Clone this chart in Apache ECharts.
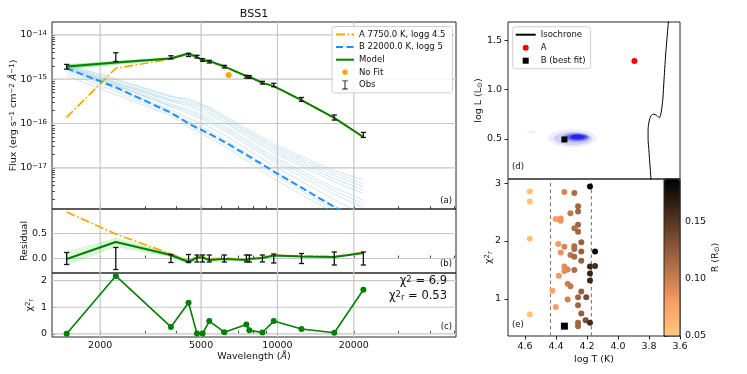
<!DOCTYPE html>
<html><head><meta charset="utf-8">
<script src="https://cdn.jsdelivr.net/npm/echarts@6/dist/echarts.min.js"></script>
<style>html,body{margin:0;padding:0;background:#fff}#c{width:747px;height:374px}</style>
</head><body><div id="c"></div>
<script>
// ================= DATA =================
const wavelengths = [1475, 2304, 3800, 4461, 4816, 5067, 5385, 6173, 7543, 7751, 8724, 9669, 12440, 16755, 21820];
const obsFlux  = [1.919e-15, 3.228e-15, 3.126e-15, 3.532e-15, 3.228e-15, 2.716e-15, 2.489e-15, 1.919e-15, 1.140e-15, 1.122e-15, 8.34e-16, 7.40e-16, 3.51e-16, 1.374e-16, 5.56e-17];
const obsErr   = [0.23e-15, 0.72e-15, 0.25e-15, 0.28e-15, 0.23e-15, 0.19e-15, 0.17e-15, 0.13e-15, 0.08e-15, 0.08e-15, 0.06e-15, 0.067e-15, 0.035e-15, 0.018e-15, 0.0072e-15];
const modelFlux = [1.94e-15, 2.37e-15, 2.93e-15, 3.80e-15, 3.163e-15, 2.662e-15, 2.564e-15, 1.938e-15, 1.174e-15, 1.133e-15, 8.26e-16, 6.96e-16, 3.37e-16, 1.333e-16, 4.95e-17];
const compAFlux = [1.374e-16, 1.762e-15, 2.864e-15, 3.656e-15, 3.083e-15, 2.59e-15, 2.51e-15, 1.90e-15, 1.154e-15, 1.115e-15, 8.14e-16, 6.88e-16, 3.33e-16, 1.32e-16, 4.90e-17];
const compBFlux = [1.762e-15, 6.55e-16, 1.750e-16, 1.005e-16, 8.0e-17, 6.97e-17, 5.85e-17, 3.86e-17, 1.97e-17, 1.79e-17, 1.19e-17, 8.24e-18, 3.55e-18, 1.306e-18, 5.30e-19];
const noFitWavelength = [6423];
const noFitFlux = [1.245e-15];

// ensemble of B models (light blue)
const ensWavelengths = [1475, 2304, 3800, 4461, 5385, 6423, 9669, 16755, 21820];
const ensB = [
  [2.089e-15, 9.55e-16, 3.98e-16, 3.55e-16, 2.34e-16, 1.32e-16, 3.39e-17, 8.71e-18, 5.25e-18],
  [1.995e-15, 8.71e-16, 3.55e-16, 3.02e-16, 2.00e-16, 1.12e-16, 2.75e-17, 6.61e-18, 3.80e-18],
  [1.905e-15, 7.94e-16, 3.16e-16, 2.51e-16, 1.58e-16, 9.12e-17, 2.19e-17, 4.79e-18, 2.63e-18],
  [1.820e-15, 7.59e-16, 2.75e-16, 2.09e-16, 1.32e-16, 7.59e-17, 1.78e-17, 3.55e-18, 1.86e-18],
  [1.738e-15, 7.08e-16, 2.40e-16, 1.70e-16, 1.05e-16, 6.03e-17, 1.38e-17, 2.51e-18, 1.26e-18],
  [1.660e-15, 6.31e-16, 2.00e-16, 1.32e-16, 8.32e-17, 4.79e-17, 1.10e-17, 1.91e-18, 8.91e-19],
  [1.585e-15, 6.03e-16, 1.82e-16, 1.12e-16, 6.76e-17, 3.80e-17, 8.71e-18, 1.38e-18, 6.03e-19],
  [1.413e-15, 5.25e-16, 1.66e-16, 9.33e-17, 5.50e-17, 3.16e-17, 7.08e-18, 1.12e-18, 5.01e-19],
  [1.202e-15, 4.47e-16, 1.51e-16, 8.32e-17, 4.79e-17, 2.69e-17, 5.62e-18, 9.55e-19, 4.57e-19],
  [2.188e-15, 1.00e-15, 4.17e-16, 3.31e-16, 2.19e-16, 1.20e-16, 3.02e-17, 7.59e-18, 4.37e-18],
  [1.950e-15, 8.32e-16, 3.31e-16, 2.75e-16, 1.78e-16, 1.00e-16, 2.45e-17, 5.62e-18, 3.16e-18],
  [1.778e-15, 7.24e-16, 2.51e-16, 1.91e-16, 1.17e-16, 6.76e-17, 1.58e-17, 3.02e-18, 1.51e-18]
];
// ensemble of total models (light green) in flux panel
const ensModelWavelengths = [1475, 2304, 3800, 4461];
const ensModel = [
  [2.089e-15, 2.512e-15, 3.020e-15, 3.890e-15],
  [1.995e-15, 2.455e-15, 2.985e-15, 3.846e-15],
  [1.905e-15, 2.344e-15, 2.951e-15, 3.802e-15],
  [1.820e-15, 2.265e-15, 2.917e-15, 3.802e-15],
  [1.738e-15, 2.188e-15, 2.884e-15, 3.758e-15]
];

// residual panel
const residObsErr = [0.12, 0.22, 0.08, 0.08, 0.07, 0.07, 0.07, 0.07, 0.07, 0.07, 0.07, 0.09, 0.10, 0.13, 0.13];
const residModel  = [-0.01, 0.33, 0.07, -0.07, 0.02, 0.02, -0.03, -0.01, -0.03, -0.01, 0.01, 0.06, 0.04, 0.03, 0.11];
const residA      = [0.93, 0.49, 0.09, -0.05, 0.04, 0.04, -0.01, 0.01, -0.02, 0.00, 0.02, 0.07, 0.05, 0.04, 0.12];
const ensResidWavelengths = [1475, 2304, 3800, 4461, 4816, 5067, 5385, 6173];
const ensResid = [
  [0.12, 0.40, 0.10, -0.04, 0.03, 0.03, -0.02, -0.01],
  [0.08, 0.37, 0.09, -0.05, 0.02, 0.02, -0.03, -0.01],
  [0.04, 0.35, 0.08, -0.06, 0.02, 0.02, -0.03, -0.01],
  [-0.04, 0.30, 0.06, -0.08, 0.01, 0.02, -0.03, -0.01],
  [-0.08, 0.27, 0.05, -0.09, 0.01, 0.01, -0.04, -0.01],
  [-0.12, 0.24, 0.04, -0.10, 0.01, 0.01, -0.04, -0.01]
];
// chi2 panel
const chi2Values = [0.00, 2.18, 0.26, 1.17, 0.01, 0.01, 0.48, 0.06, 0.35, 0.13, 0.05, 0.48, 0.18, 0.04, 1.66];

// HR diagram
const isoLogT = [3.674, 3.675, 3.690, 3.703, 3.711, 3.722, 3.733, 3.750, 3.772, 3.788, 3.799, 3.806, 3.806, 3.801, 3.795, 3.788, 3.786];
const isoLogL = [1.75, 1.694, 1.411, 1.105, 0.901, 0.765, 0.714, 0.738, 0.751, 0.731, 0.680, 0.595, 0.493, 0.391, 0.255, 0.102, 0.05];
const starALogT = [3.894], starALogL = [1.292];
const starBLogT = [4.346], starBLogL = [0.493];
const kdeLogT  = [4.296, 4.291, 4.273, 4.264, 4.262, 4.560];
const kdeLogL  = [0.506, 0.503, 0.513, 0.516, 0.518, 0.567];
const kdeHalfT = [0.156, 0.123, 0.089, 0.069, 0.047, 0.027];
const kdeHalfL = [0.089, 0.068, 0.048, 0.034, 0.023, 0.012];
const kdeLevel = [0, 1, 2, 3, 4, 0];

// chi2 vs logT scatter, coloured by radius
const eLogT = [4.569,4.569,4.569,4.569,4.346,4.282,4.181,4.258,4.258,4.307,4.402,4.37,4.37,4.258,4.282,4.258,4.237,4.386,4.346,4.282,4.282,4.37,4.237,4.148,4.307,4.282,4.237,4.181,4.148,4.346,4.325,4.346,4.282,4.382,4.181,4.181,4.325,4.307,4.237,4.423,4.258,4.205,4.325,4.258,4.402,4.237,4.209,4.181,4.258,4.258];
const eChi2 = [2.855,2.68,2.04,0.73,2.845,2.83,2.94,2.60,2.51,2.48,2.38,2.39,2.35,2.28,2.22,2.16,1.98,1.95,1.90,1.91,1.86,1.80,1.82,1.82,1.76,1.73,1.66,1.56,1.57,1.56,1.51,1.48,1.50,1.40,1.44,1.32,1.26,1.22,1.13,1.14,1.03,1.03,0.99,0.89,0.86,0.75,0.63,0.59,0.59,0.53];
const eRadius = [0.055,0.055,0.056,0.055,0.095,0.112,0.187,0.118,0.118,0.105,0.080,0.085,0.085,0.118,0.110,0.118,0.122,0.082,0.095,0.112,0.112,0.085,0.122,0.185,0.105,0.112,0.122,0.160,0.158,0.090,0.095,0.090,0.112,0.082,0.162,0.160,0.098,0.105,0.122,0.075,0.118,0.135,0.098,0.118,0.078,0.122,0.135,0.158,0.118,0.118];
const bestLogT = [4.346], bestChi2 = [0.53];
const tempBounds = [4.436, 4.172];

// tick / label values
const xMinorTicks = [2000,3000,4000,5000,6000,7000,8000,9000,10000,20000,30000,40000,50000];
const xLabelTicks = [2000, 5000, 10000, 20000];
const fluxDecades = [1e-17, 1e-16, 1e-15, 1e-14];
const residTicks = [0, 0.5];
const chi2Ticks = [0, 1, 2];
const hrLTicks = [0.5, 1.0, 1.5];
const eChi2Ticks = [1, 2, 3];
const logTTicks = [3.6, 3.8, 4.0, 4.2, 4.4, 4.6];
const radiusTicks = [0.05, 0.10, 0.15];

// ================= STYLE =================
const FONT = 'DejaVu Sans';
const TXT = '#111';
const FRAME = '#262626';
const GRIDC = '#c6c6c6';
const GREEN = '#008000', ORANGE = '#FFA500', BLUE = '#1E90FF';
const COPPER_R = ['#ffc77f', '#ff9f65', '#bf774c', '#805033', '#402819', '#000000'];
const KDE_COLORS = ['#ececfc', '#cfcff7', '#a2a2f1', '#5e5eea', '#2626e4'];
const rich = {
  sup: {fontSize: 7, lineHeight: 7, padding: [0, 0, 7, 0], verticalAlign: 'top', fontFamily: FONT, color: TXT},
  sub: {fontSize: 7, lineHeight: 7, padding: [7, 0, 0, 0], verticalAlign: 'bottom', fontFamily: FONT, color: TXT},
  it: {fontStyle: 'italic', fontSize: 9.5, fontFamily: FONT, color: TXT}
};
const richBig = {
  sup: {fontSize: 8.5, lineHeight: 8, padding: [0, 0, 8, 0], verticalAlign: 'top', fontFamily: FONT, color: TXT},
  sub: {fontSize: 8.5, lineHeight: 8, padding: [8, 0, 0, 0], verticalAlign: 'bottom', fontFamily: FONT, color: TXT}
};
const labelStyle = {fontFamily: FONT, fontSize: 9.5, color: TXT, rich: rich};
const nameStyle = {fontFamily: FONT, fontSize: 9.5, color: TXT, rich: rich};
const NO_SYMBOL = {color: 'rgba(0,0,0,0)', borderColor: 'rgba(0,0,0,0)', borderWidth: 0, opacity: 0};

// ================= AXIS RANGES =================
// Wavelength and flux axes are logarithmic: values are placed on value axes in log10 space.
const lg = Math.log10;
const WAVE_MIN = lg(1291), WAVE_MAX = lg(50600);
const FLUX_MIN = -17.93, FLUX_MAX = -13.71;
const RES_MIN = -0.29, RES_MAX = 0.99;
const CHI_MIN = -0.12, CHI_MAX = 2.29;

// ================= HELPERS =================
const pairs = (xs, ys) => xs.map((x, i) => [x, ys[i]]);
const logPairs = (xs, ys) => xs.map((x, i) => [lg(x), lg(ys[i])]);

function errorBarItem(params, api) {
  const x = api.value(0);
  const p1 = api.coord([x, api.value(2)]);
  const p2 = api.coord([x, api.value(3)]);
  const cap = 2.6;
  const st = {stroke: '#111', lineWidth: 1.3};
  return {type: 'group', children: [
    {type: 'line', shape: {x1: p1[0], y1: p1[1], x2: p2[0], y2: p2[1]}, style: st},
    {type: 'line', shape: {x1: p1[0] - cap, y1: p1[1], x2: p1[0] + cap, y2: p1[1]}, style: st},
    {type: 'line', shape: {x1: p2[0] - cap, y1: p2[1], x2: p2[0] + cap, y2: p2[1]}, style: st}
  ]};
}
function ellipseItem(params, api) {
  const c = api.coord([api.value(0), api.value(1)]);
  const s = api.size([api.value(2), api.value(3)]);
  const rx = Math.abs(s[0]), ry = Math.abs(s[1]);
  const pts = [];
  for (let k = 0; k < 60; k++) {
    const t = k / 60 * 2 * Math.PI;
    pts.push([c[0] + rx * Math.cos(t), c[1] + ry * Math.sin(t)]);
  }
  return {type: 'polygon', shape: {points: pts}, style: {fill: KDE_COLORS[api.value(4)]}};
}
// grid lines drawn as plain line series spanning the axis range
function gridLineSeries(xi, yi, xs, ys, xr, yr) {
  const out = [];
  xs.forEach(v => out.push({type: 'line', xAxisIndex: xi, yAxisIndex: yi, data: [[v, yr[0]], [v, yr[1]]],
    symbol: 'none', silent: true, z: 1, lineStyle: {color: GRIDC, width: 1.2}}));
  ys.forEach(v => out.push({type: 'line', xAxisIndex: xi, yAxisIndex: yi, data: [[xr[0], v], [xr[1], v]],
    symbol: 'none', silent: true, z: 1, lineStyle: {color: GRIDC, width: 1.2}}));
  return out;
}

const fluxMinor = [];
[1e-18, 1e-17, 1e-16, 1e-15, 1e-14].forEach(d => { for (let m = 1; m <= 9; m++) fluxMinor.push(lg(m * d)); });
const xMinorLog = xMinorTicks.map(lg);
const xLabelLog = xLabelTicks.map(lg);
const fluxDecadesLog = fluxDecades.map(lg);

function waveAxis(gi, withLabels) {
  const ax = {type: 'value', gridIndex: gi, min: WAVE_MIN, max: WAVE_MAX,
    axisLine: {show: false}, splitLine: {show: false},
    axisTick: {show: true, inside: true, length: 3, customValues: xMinorLog, lineStyle: {color: FRAME, width: 0.8}},
    axisLabel: {show: withLabels, customValues: xLabelLog, formatter: v => String(Math.round(Math.pow(10, v))), margin: 4, ...labelStyle}
  };
  if (withLabels) {
    ax.name = 'Wavelength ({it|Å})';
    ax.nameLocation = 'middle';
    ax.nameGap = 15;
    ax.nameMoveOverlap = false;
    ax.nameTextStyle = nameStyle;
  }
  return ax;
}
function yName(name, gap) {
  return {name: name, nameLocation: 'middle', nameGap: gap, nameMoveOverlap: false, nameTextStyle: nameStyle};
}

// ================= SERIES =================
const series = [];
// ---- panel (a)
series.push(...gridLineSeries(0, 0, xLabelLog, fluxDecadesLog, [WAVE_MIN, WAVE_MAX], [FLUX_MIN, FLUX_MAX]));
ensB.forEach(arr => series.push({type: 'line', xAxisIndex: 0, yAxisIndex: 0, data: logPairs(ensWavelengths, arr),
  symbol: 'none', silent: true, z: 2, lineStyle: {color: 'rgba(150,200,222,0.45)', width: 1}}));
ensModel.forEach(arr => series.push({type: 'line', xAxisIndex: 0, yAxisIndex: 0, data: logPairs(ensModelWavelengths, arr),
  symbol: 'none', silent: true, z: 2, lineStyle: {color: 'rgba(100,220,100,0.45)', width: 1.5}}));
series.push({type: 'line', name: 'A 7750.0 K, logg 4.5', xAxisIndex: 0, yAxisIndex: 0, data: logPairs(wavelengths, compAFlux),
  symbol: 'none', z: 3, itemStyle: {color: ORANGE}, lineStyle: {color: ORANGE, width: 1.7, type: [9, 2.5, 1.6, 2.5]}});
series.push({type: 'line', name: 'B 22000.0 K, logg 5', xAxisIndex: 0, yAxisIndex: 0, data: logPairs(wavelengths, compBFlux),
  symbol: 'none', z: 3, itemStyle: {color: BLUE}, lineStyle: {color: BLUE, width: 2, type: [7, 3.5]}});
series.push({type: 'line', name: 'Model', xAxisIndex: 0, yAxisIndex: 0, data: logPairs(wavelengths, modelFlux),
  symbol: 'none', z: 4, itemStyle: {color: GREEN}, lineStyle: {color: GREEN, width: 2}});
series.push({type: 'scatter', name: 'No Fit', xAxisIndex: 0, yAxisIndex: 0, data: logPairs(noFitWavelength, noFitFlux),
  symbolSize: 6, z: 5, itemStyle: {color: ORANGE, opacity: 1}});
series.push({type: 'custom', name: 'Obs', xAxisIndex: 0, yAxisIndex: 0, renderItem: errorBarItem,
  data: wavelengths.map((w, i) => [lg(w), lg(obsFlux[i]), lg(obsFlux[i] + obsErr[i]), lg(obsFlux[i] - obsErr[i])]),
  encode: {x: 0, y: 1}, z: 6, silent: true, itemStyle: {color: '#111'}});
// ---- panel (b)
series.push(...gridLineSeries(1, 1, xLabelLog, residTicks, [WAVE_MIN, WAVE_MAX], [RES_MIN, RES_MAX]));
ensResid.forEach(arr => series.push({type: 'line', xAxisIndex: 1, yAxisIndex: 1, data: pairs(ensResidWavelengths.map(lg), arr),
  symbol: 'none', silent: true, z: 2, lineStyle: {color: 'rgba(100,225,100,0.35)', width: 1.2}}));
series.push({type: 'line', xAxisIndex: 1, yAxisIndex: 1, data: pairs(wavelengths.map(lg), residA),
  symbol: 'none', z: 3, lineStyle: {color: ORANGE, width: 1.7, type: [9, 2.5, 1.6, 2.5]}});
series.push({type: 'line', xAxisIndex: 1, yAxisIndex: 1, data: pairs(wavelengths.map(lg), residModel),
  symbol: 'none', z: 4, lineStyle: {color: GREEN, width: 2}});
series.push({type: 'custom', xAxisIndex: 1, yAxisIndex: 1, renderItem: errorBarItem,
  data: wavelengths.map((w, i) => [lg(w), 0, residObsErr[i], -residObsErr[i]]), encode: {x: 0, y: 1}, z: 6, silent: true});
// ---- panel (c)
series.push(...gridLineSeries(2, 2, xLabelLog, chi2Ticks, [WAVE_MIN, WAVE_MAX], [CHI_MIN, CHI_MAX]));
series.push({type: 'line', xAxisIndex: 2, yAxisIndex: 2, data: pairs(wavelengths.map(lg), chi2Values),
  symbol: 'circle', symbolSize: 6, showAllSymbol: true, z: 4,
  itemStyle: {color: GREEN}, lineStyle: {color: GREEN, width: 1.6}});
// ---- panel (d)
series.push({type: 'custom', xAxisIndex: 3, yAxisIndex: 3, renderItem: ellipseItem, silent: true, z: 2,
  data: kdeLogT.map((t, i) => [t, kdeLogL[i], kdeHalfT[i], kdeHalfL[i], kdeLevel[i]]), encode: {x: 0, y: 1}});
series.push({type: 'line', name: 'Isochrone', xAxisIndex: 3, yAxisIndex: 3, data: pairs(isoLogT, isoLogL),
  symbol: 'none', smooth: 0.25, z: 3, itemStyle: {color: '#000'}, lineStyle: {color: '#000', width: 1}});
series.push({type: 'scatter', name: 'A', xAxisIndex: 3, yAxisIndex: 3, data: pairs(starALogT, starALogL),
  symbolSize: 6, z: 4, itemStyle: {color: '#ff0000', opacity: 1}});
series.push({type: 'scatter', name: 'B (best fit)', xAxisIndex: 3, yAxisIndex: 3, data: pairs(starBLogT, starBLogL),
  symbol: 'rect', symbolSize: 6, z: 5, itemStyle: {color: '#000', opacity: 1}});
// ---- panel (e)
tempBounds.forEach(v => series.push({type: 'line', xAxisIndex: 4, yAxisIndex: 4, data: [[v, 0.36], [v, 3.07]],
  symbol: 'none', silent: true, z: 1, lineStyle: {color: '#6e6e6e', width: 1, type: [3.5, 3]}}));
const eIdx = series.length;
series.push({type: 'scatter', xAxisIndex: 4, yAxisIndex: 4, data: eLogT.map((t, i) => [t, eChi2[i], eRadius[i]]),
  symbolSize: 6, z: 3, itemStyle: {opacity: 1}});
series.push({type: 'scatter', xAxisIndex: 4, yAxisIndex: 4, data: pairs(bestLogT, bestChi2),
  symbol: 'rect', symbolSize: 7, z: 4, itemStyle: {color: '#000', opacity: 1}});

// ================= OPTION =================
const gridBase = {show: true, borderColor: FRAME, borderWidth: 1, backgroundColor: 'transparent',
  containLabel: false, outerBoundsMode: 'none'};
const IBEAM = 'path://M0,0H10V1.6H5.8V14.4H10V16H0V14.4H4.2V1.6H0Z';
const SMALL_DOT = 'path://M0,0L0.01,0L0,0.01ZM10,10L9.99,10L10,9.99ZM2,5A3,3 0 1 1 8,5A3,3 0 1 1 2,5Z';
const SQUARE = 'path://M0,0H10V10H0Z';
const option = {
  animation: false,
  backgroundColor: '#fff',
  textStyle: {fontFamily: FONT},
  grid: [
    {...gridBase, left: 52, top: 22, width: 404, height: 187},
    {...gridBase, left: 52, top: 209, width: 404, height: 64},
    {...gridBase, left: 52, top: 273, width: 404, height: 64},
    {...gridBase, left: 508, top: 22, width: 172, height: 157},
    {...gridBase, left: 508, top: 179, width: 172, height: 157},
    {...gridBase, left: 664, top: 179, width: 16, height: 157, z: 10}
  ],
  xAxis: [
    waveAxis(0, false), waveAxis(1, false), waveAxis(2, true),
    {type: 'value', gridIndex: 3, min: 3.6, max: 4.71, inverse: true, axisLine: {show: false}, splitLine: {show: false},
      axisTick: {show: false}, axisLabel: {show: false}},
    {type: 'value', gridIndex: 4, min: 3.6, max: 4.71, inverse: true, axisLine: {show: false}, splitLine: {show: false},
      axisTick: {show: true, length: 3.5, customValues: logTTicks, lineStyle: {color: FRAME}},
      axisLabel: {customValues: logTTicks, formatter: v => v.toFixed(1), margin: 6, ...labelStyle},
      name: 'log T (K)', nameLocation: 'middle', nameGap: 19, nameMoveOverlap: false, nameTextStyle: nameStyle},
    {type: 'value', gridIndex: 5, min: 0, max: 1, show: false}
  ],
  yAxis: [
    {type: 'value', gridIndex: 0, min: FLUX_MIN, max: FLUX_MAX, axisLine: {show: false}, splitLine: {show: false},
      axisTick: {inside: true, length: 3, customValues: fluxMinor, lineStyle: {color: FRAME, width: 0.8}},
      axisLabel: {customValues: fluxDecadesLog, formatter: v => '10{sup|−' + Math.round(-v) + '}', margin: 5, ...labelStyle},
      ...yName('Flux (erg s{sup|−1} cm{sup|−2} {it|Å}{sup|−1})', 33)},
    {type: 'value', gridIndex: 1, min: RES_MIN, max: RES_MAX, axisLine: {show: false}, splitLine: {show: false},
      axisTick: {inside: true, length: 3, customValues: residTicks, lineStyle: {color: FRAME, width: 0.8}},
      axisLabel: {customValues: residTicks, formatter: v => v.toFixed(1), margin: 5, ...labelStyle},
      ...yName('Residual', 22)},
    {type: 'value', gridIndex: 2, min: CHI_MIN, max: CHI_MAX, axisLine: {show: false}, splitLine: {show: false},
      axisTick: {inside: true, length: 3, customValues: chi2Ticks, lineStyle: {color: FRAME, width: 0.8}},
      axisLabel: {customValues: chi2Ticks, formatter: v => String(Math.round(v)), margin: 5, ...labelStyle},
      ...yName('χ{sup|2}{sub|r}', 17)},
    {type: 'value', gridIndex: 3, min: 0.09, max: 1.69, axisLine: {show: false}, splitLine: {show: false},
      axisTick: {show: true, length: 3.5, customValues: hrLTicks, lineStyle: {color: FRAME}},
      axisLabel: {customValues: hrLTicks, formatter: v => v.toFixed(1), margin: 6, ...labelStyle},
      ...yName('log L (L{sub|⊙})', 24)},
    {type: 'value', gridIndex: 4, min: 0.36, max: 3.07, axisLine: {show: false}, splitLine: {show: false},
      axisTick: {show: true, length: 3.5, customValues: eChi2Ticks, lineStyle: {color: FRAME}},
      axisLabel: {customValues: eChi2Ticks, formatter: v => String(Math.round(v)), margin: 7, ...labelStyle},
      ...yName('χ{sup|2}{sub|r}', 14)},
    {type: 'value', gridIndex: 5, position: 'right', min: 0.05, max: 0.1875, axisLine: {show: false}, splitLine: {show: false},
      axisTick: {show: true, length: 3.5, customValues: radiusTicks, lineStyle: {color: FRAME}},
      axisLabel: {customValues: radiusTicks, formatter: v => v.toFixed(2), margin: 5, ...labelStyle},
      ...yName('R (R{sub|⊙})', 31)}
  ],
  visualMap: {type: 'continuous', seriesIndex: eIdx, dimension: 2, min: 0.05, max: 0.1875,
    calculable: false, show: true, left: 664, top: 179, itemWidth: 16, itemHeight: 157, padding: 0,
    text: null, hoverLink: false, inRange: {color: COPPER_R}, z: 5},
  legend: [
    {orient: 'vertical', left: 332, top: 26.5, padding: [3, 7, 3, 3], itemWidth: 18, itemHeight: 9, itemGap: 2.6,
      backgroundColor: 'rgba(255,255,255,0.85)', borderColor: '#cfcfcf', borderWidth: 1, borderRadius: 3,
      selectedMode: false, textStyle: {fontFamily: FONT, fontSize: 8.5, color: TXT, lineHeight: 10},
      data: [{name: 'A 7750.0 K, logg 4.5', itemStyle: NO_SYMBOL}, {name: 'B 22000.0 K, logg 5', itemStyle: NO_SYMBOL},
        {name: 'Model', itemStyle: NO_SYMBOL},
        {name: 'No Fit', icon: SMALL_DOT},
        {name: 'Obs', icon: IBEAM}]},
    {orient: 'vertical', left: 512.7, top: 26.7, padding: [3, 5, 3, 2], itemWidth: 20, itemHeight: 6, itemGap: 3,
      backgroundColor: 'rgba(255,255,255,0.85)', borderColor: '#cfcfcf', borderWidth: 1, borderRadius: 3,
      selectedMode: false, textStyle: {fontFamily: FONT, fontSize: 8.5, color: TXT, lineHeight: 10},
      data: [{name: 'Isochrone', itemStyle: NO_SYMBOL}, {name: 'A', icon: 'circle'}, {name: 'B (best fit)', icon: SQUARE}]}
  ],
  graphic: [
    {type: 'text', x: 254, y: 14, style: {text: 'BSS1', fontFamily: FONT, fontSize: 11, fill: TXT, align: 'center', verticalAlign: 'middle'}},
    {type: 'text', x: 452, y: 201, style: {text: '(a)', fontFamily: FONT, fontSize: 8.5, fill: TXT, align: 'right', verticalAlign: 'middle'}},
    {type: 'text', x: 452, y: 264, style: {text: '(b)', fontFamily: FONT, fontSize: 8.5, fill: TXT, align: 'right', verticalAlign: 'middle'}},
    {type: 'text', x: 452, y: 327, style: {text: '(c)', fontFamily: FONT, fontSize: 8.5, fill: TXT, align: 'right', verticalAlign: 'middle'}},
    {type: 'text', x: 512, y: 167, style: {text: '(d)', fontFamily: FONT, fontSize: 8.5, fill: TXT, align: 'left', verticalAlign: 'middle'}},
    {type: 'text', x: 512, y: 325, style: {text: '(e)', fontFamily: FONT, fontSize: 8.5, fill: TXT, align: 'left', verticalAlign: 'middle'}},
    {type: 'text', x: 447, y: 281, z: 20, style: {text: 'χ{sup|2} = 6.9', rich: richBig, fontFamily: FONT, fontSize: 11.5, fill: TXT, align: 'right', verticalAlign: 'middle'}},
    {type: 'text', x: 447, y: 296, z: 20, style: {text: 'χ{sup|2}{sub|r} = 0.53', rich: richBig, fontFamily: FONT, fontSize: 11.5, fill: TXT, align: 'right', verticalAlign: 'middle'}}
  ],
  series: series
};
const chart = echarts.init(document.getElementById('c'));
chart.setOption(option);
</script></body></html>
